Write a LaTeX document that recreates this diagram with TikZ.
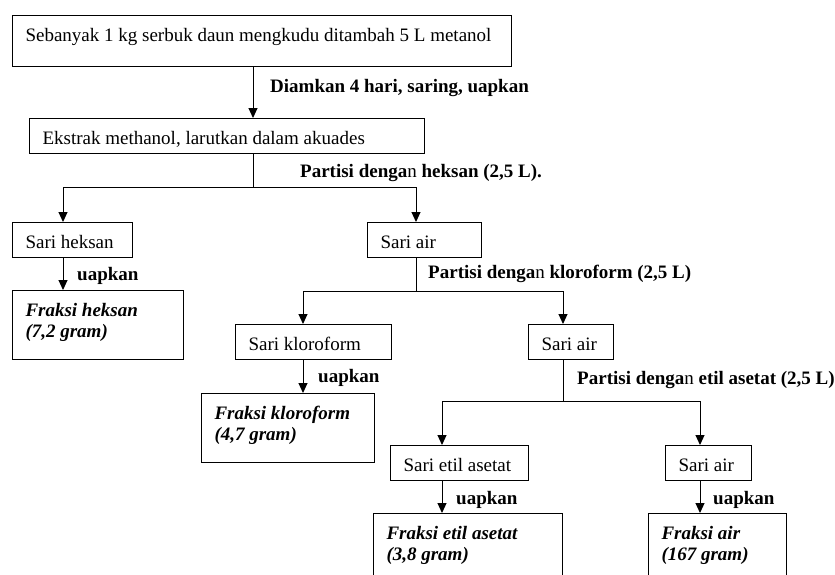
\documentclass[tikz,border=0pt]{standalone}
\usepackage{fontspec}
\setmainfont{Liberation Serif}
\usetikzlibrary{arrows.meta,positioning}

\begin{document}
\begin{tikzpicture}[
    x=1pt, y=-1pt,
    block/.style={rectangle, draw, line width=1pt, anchor=north west, align=flush left,
        inner xsep=13pt, inner ysep=0pt, minimum height=35pt,
        font=\fontsize{19}{21}\selectfont, text height=16pt, text depth=0pt},
    fraksi/.style={block, minimum height=69pt, text height=13pt, text depth=30pt,
        font=\fontsize{19}{21}\selectfont\bfseries\itshape},
    line/.style={draw, line width=1pt, -{Triangle[length=10pt, width=9pt]}},
    edge label/.style={anchor=base west, inner sep=0pt, font=\fontsize{19}{21}\selectfont\bfseries}
]
    \useasboundingbox (0,0) rectangle (835,574);
    \clip (0,0) rectangle (835,574);

    % Place nodes
    \node [block, text width=473pt, minimum height=51pt, text depth=15pt] (start) at (12,15)
        {Sebanyak 1 kg serbuk daun mengkudu ditambah 5 L metanol};
    \node [block, text width=369pt] (ekstrak) at (29,118) {Ekstrak methanol, larutkan dalam akuades};

    \node [block, text width=94pt] (heksan) at (12,222) {Sari heksan};
    \node [block, text width=88pt] (air1) at (367,222) {Sari air};
    \node [fraksi, text width=145pt] (fheksan) at (12,290) {Fraksi heksan\\(7,2 gram)};

    \node [block, text width=130pt] (kloroform) at (235,324) {Sari kloroform};
    \node [block, text width=59pt] (air2) at (528,324) {Sari air};
    \node [fraksi, text width=147pt] (fkloroform) at (201,393) {Fraksi kloroform\\(4,7 gram)};

    \node [block, text width=112pt] (etil) at (390,445) {Sari etil asetat};
    \node [block, text width=60pt] (air3) at (665,445) {Sari air};
    \node [fraksi, text width=163pt] (fetil) at (373,513) {Fraksi etil asetat\\(3,8 gram)};
    \node [fraksi, text width=112pt] (fair) at (648,513) {Fraksi air\\(167 gram)};

    % Split points
    \coordinate (split a) at (253,187);
    \coordinate (split a left) at (63,187);
    \coordinate (split a right) at (416,187);
    \coordinate (split b) at (416,291);
    \coordinate (split b left) at (303,291);
    \coordinate (split b right) at (563,291);
    \coordinate (split c) at (563,401);
    \coordinate (split c left) at (442,401);
    \coordinate (split c right) at (700,401);

    % Labels
    \node [edge label] (diam) at (270,92) {Diamkan 4 hari, saring, uapkan};
    \node [edge label] (partisi heksan) at (300,177) {Partisi denga{\mdseries n} heksan (2,5 L).};
    \node [edge label] (partisi kloroform) at (428,278) {Partisi denga{\mdseries n} kloroform (2,5 L)};
    \node [edge label] (partisi etil) at (577,384) {Partisi denga{\mdseries n} etil asetat (2,5 L)};
    \node [edge label] (uap heksan) at (77,280) {uapkan};
    \node [edge label] (uap kloroform) at (318,382) {uapkan};
    \node [edge label] (uap etil) at (456,504) {uapkan};
    \node [edge label] (uap air) at (713,504) {uapkan};

    % Draw edges
    \path [line] (start.south -| split a) -- (ekstrak.north -| split a);
    \path [line] (ekstrak.south -| split a) -- (split a) -| (heksan.north -| split a left);
    \path [line] (split a) -| (air1.north -| split a right);
    \path [line] (heksan.south -| split a left) -- (fheksan.north -| split a left);

    \path [line] (air1.south -| split b) -- (split b) -| (kloroform.north -| split b left);
    \path [line] (split b) -| (air2.north -| split b right);
    \path [line] (kloroform.south -| split b left) -- (fkloroform.north -| split b left);

    \path [line] (air2.south -| split c) -- (split c) -| (etil.north -| split c left);
    \path [line] (split c) -| (air3.north -| split c right);
    \path [line] (etil.south -| split c left) -- (fetil.north -| split c left);
    \path [line] (air3.south -| split c right) -- (fair.north -| split c right);
\end{tikzpicture}
\end{document}
